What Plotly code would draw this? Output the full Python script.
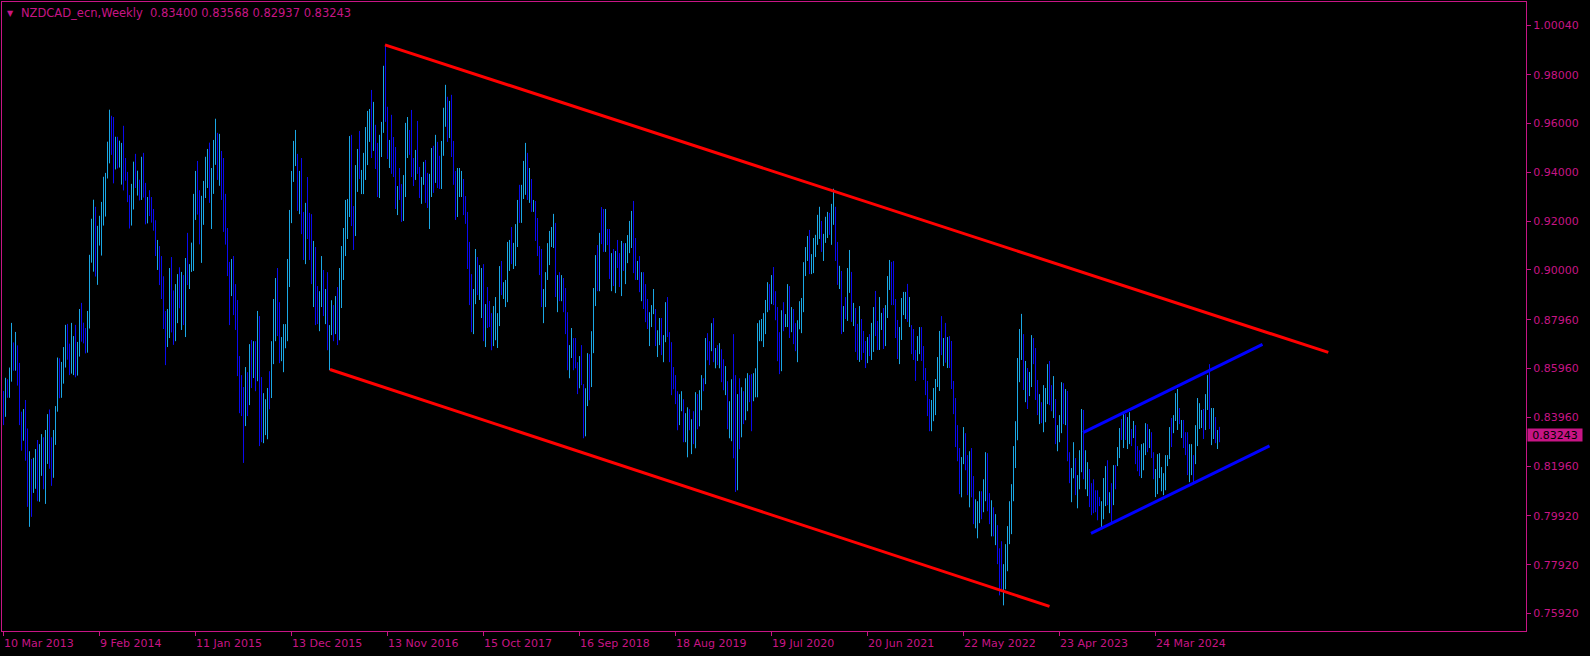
import plotly.graph_objects as go

symbol = "NZDCAD_ecn,Weekly"
last_ohlc = [0.83400, 0.83568, 0.82937, 0.83243]

date_labels = ["10 Mar 2013", "9 Feb 2014", "11 Jan 2015", "13 Dec 2015", "13 Nov 2016",
               "15 Oct 2017", "16 Sep 2018", "18 Aug 2019", "19 Jul 2020", "20 Jun 2021",
               "22 May 2022", "23 Apr 2023", "24 Mar 2024"]
date_index = [0, 48, 96, 144, 192, 240, 288, 336, 384, 432, 480, 528, 576]

y_ticks = [1.00040, 0.98000, 0.96000, 0.94000, 0.92000, 0.90000, 0.87960,
           0.85960, 0.83960, 0.81960, 0.79920, 0.77920, 0.75920]

# weekly bar highs / lows (one value per week, oldest first)
high = [
    0.8504, 0.8558, 0.8552, 0.8600, 0.8783, 0.8703, 0.8746, 0.8691, 0.8619, 0.8419,
    0.8430, 0.8467, 0.8350, 0.8257, 0.8225, 0.8230, 0.8266, 0.8303, 0.8286, 0.8327,
    0.8314, 0.8344, 0.8409, 0.8428, 0.8314, 0.8344, 0.8442, 0.8641, 0.8638, 0.8623,
    0.8684, 0.8775, 0.8779, 0.8698, 0.8783, 0.8729, 0.8775, 0.8705, 0.8840, 0.8865,
    0.8784, 0.8762, 0.8832, 0.9062, 0.9210, 0.9288, 0.9259, 0.9181, 0.9222, 0.9279,
    0.9382, 0.9398, 0.9526, 0.9657, 0.9632, 0.9627, 0.9546, 0.9546, 0.9530, 0.9521,
    0.9591, 0.9459, 0.9402, 0.9307, 0.9353, 0.9444, 0.9476, 0.9407, 0.9370, 0.9464,
    0.9480, 0.9357, 0.9299, 0.9327, 0.9299, 0.9250, 0.9204, 0.9123, 0.9098, 0.9057,
    0.8974, 0.8832, 0.8840, 0.9008, 0.9053, 0.8916, 0.8942, 0.8983, 0.9011, 0.8992,
    0.8979, 0.9049, 0.9152, 0.9024, 0.9112, 0.9312, 0.9406, 0.9447, 0.9327, 0.9304,
    0.9365, 0.9464, 0.9496, 0.9522, 0.9418, 0.9533, 0.9620, 0.9562, 0.9558, 0.9488,
    0.9459, 0.9312, 0.9172, 0.9033, 0.9045, 0.9057, 0.8942, 0.8877, 0.8647, 0.8569,
    0.8520, 0.8602, 0.8581, 0.8696, 0.8713, 0.8708, 0.8708, 0.8832, 0.8811, 0.8561,
    0.8495, 0.8470, 0.8516, 0.8585, 0.8708, 0.8881, 0.8967, 0.9008, 0.8868, 0.8725,
    0.8778, 0.8778, 0.9045, 0.9246, 0.9406, 0.9529, 0.9574, 0.9476, 0.9406, 0.9459,
    0.9238, 0.9275, 0.9381, 0.9234, 0.9229, 0.9119, 0.9094, 0.8934, 0.8913, 0.9057,
    0.9000, 0.8922, 0.8991, 0.8774, 0.8876, 0.8856, 0.8893, 0.8930, 0.9008, 0.9098,
    0.9172, 0.9287, 0.9291, 0.9549, 0.9554, 0.9262, 0.9430, 0.9496, 0.9570, 0.9410,
    0.9480, 0.9586, 0.9652, 0.9660, 0.9738, 0.9689, 0.9595, 0.9521, 0.9554, 0.9607,
    0.9837, 0.9923, 0.9669, 0.9533, 0.9636, 0.9545, 0.9504, 0.9344, 0.9418, 0.9352,
    0.9389, 0.9603, 0.9627, 0.9574, 0.9656, 0.9459, 0.9492, 0.9611, 0.9422, 0.9381,
    0.9443, 0.9451, 0.9398, 0.9394, 0.9500, 0.9509, 0.9554, 0.9525, 0.9468, 0.9529,
    0.9665, 0.9759, 0.9710, 0.9693, 0.9718, 0.9529, 0.9406, 0.9418, 0.9418, 0.9406,
    0.9373, 0.9303, 0.9238, 0.9115, 0.8983, 0.8922, 0.9086, 0.9053, 0.9020, 0.9008,
    0.9024, 0.8860, 0.8930, 0.8873, 0.8823, 0.8852, 0.8889, 0.8823, 0.9016, 0.9037,
    0.8950, 0.8959, 0.9115, 0.9123, 0.9176, 0.9111, 0.9188, 0.9287, 0.9349, 0.9349,
    0.9447, 0.9521, 0.9480, 0.9418, 0.9373, 0.9287, 0.9283, 0.9213, 0.9098, 0.9086,
    0.8922, 0.8991, 0.9110, 0.9160, 0.9176, 0.9230, 0.9193, 0.8979, 0.8991, 0.8979,
    0.8967, 0.8926, 0.8827, 0.8692, 0.8762, 0.8721, 0.8721, 0.8622, 0.8647, 0.8692,
    0.8532, 0.8515, 0.8659, 0.8655, 0.8749, 0.8926, 0.9061, 0.9102, 0.9152, 0.9258,
    0.9250, 0.9250, 0.9168, 0.9168, 0.9069, 0.9086, 0.9078, 0.9123, 0.9069, 0.9119,
    0.9110, 0.9110, 0.9143, 0.9201, 0.9242, 0.9283, 0.9131, 0.9037, 0.9057, 0.8991,
    0.8991, 0.8942, 0.8881, 0.8827, 0.8856, 0.8922, 0.8840, 0.8753, 0.8803, 0.8803,
    0.8733, 0.8868, 0.8889, 0.8745, 0.8704, 0.8602, 0.8569, 0.8503, 0.8491, 0.8503,
    0.8470, 0.8413, 0.8437, 0.8429, 0.8388, 0.8421, 0.8499, 0.8491, 0.8507, 0.8569,
    0.8556, 0.8721, 0.8741, 0.8708, 0.8782, 0.8803, 0.8680, 0.8692, 0.8700, 0.8675,
    0.8634, 0.8606, 0.8544, 0.8462, 0.8552, 0.8737, 0.8569, 0.8491, 0.8556, 0.8519,
    0.8503, 0.8556, 0.8577, 0.8569, 0.8573, 0.8577, 0.8597, 0.8782, 0.8794, 0.8799,
    0.8823, 0.8877, 0.8950, 0.8942, 0.8979, 0.9012, 0.8913, 0.8848, 0.8745, 0.8835,
    0.8868, 0.8819, 0.8942, 0.8934, 0.8848, 0.8840, 0.8782, 0.8794, 0.8872, 0.8885,
    0.9032, 0.9094, 0.9139, 0.9164, 0.9065, 0.9131, 0.9144, 0.9226, 0.9259, 0.9201,
    0.9148, 0.9218, 0.9238, 0.9234, 0.9271, 0.9333, 0.9259, 0.9115, 0.9017, 0.8996,
    0.8852, 0.8889, 0.9008, 0.9082, 0.8992, 0.8865, 0.8844, 0.8779, 0.8852, 0.8799,
    0.8750, 0.8709, 0.8725, 0.8737, 0.8783, 0.8848, 0.8914, 0.8791, 0.8889, 0.8824,
    0.8844, 0.8856, 0.8975, 0.9041, 0.9033, 0.9037, 0.8881, 0.8795, 0.8766, 0.8885,
    0.8910, 0.8910, 0.8943, 0.8889, 0.8774, 0.8758, 0.8672, 0.8729, 0.8766, 0.8766,
    0.8688, 0.8598, 0.8545, 0.8471, 0.8467, 0.8516, 0.8553, 0.8643, 0.8750, 0.8811,
    0.8721, 0.8783, 0.8725, 0.8729, 0.8709, 0.8545, 0.8475, 0.8364, 0.8270, 0.8233,
    0.8356, 0.8331, 0.8241, 0.8257, 0.8270, 0.8155, 0.8060, 0.8052, 0.8093, 0.8093,
    0.8142, 0.8253, 0.8249, 0.8085, 0.8056, 0.8027, 0.7999, 0.7954, 0.7859, 0.7888,
    0.7794, 0.7876, 0.7950, 0.8052, 0.8122, 0.8278, 0.8380, 0.8639, 0.8758, 0.8820,
    0.8737, 0.8627, 0.8598, 0.8582, 0.8733, 0.8721, 0.8680, 0.8549, 0.8491, 0.8458,
    0.8528, 0.8516, 0.8614, 0.8627, 0.8528, 0.8565, 0.8471, 0.8364, 0.8405, 0.8540,
    0.8536, 0.8512, 0.8504, 0.8253, 0.8188, 0.8294, 0.8229, 0.8159, 0.8261, 0.8430,
    0.8426, 0.8261, 0.8212, 0.8184, 0.8126, 0.8142, 0.8097, 0.8097, 0.8069, 0.8052,
    0.8147, 0.8196, 0.8220, 0.8089, 0.8126, 0.8200, 0.8200, 0.8274, 0.8352, 0.8389,
    0.8409, 0.8409, 0.8397, 0.8417, 0.8348, 0.8381, 0.8364, 0.8278, 0.8261, 0.8286,
    0.8290, 0.8372, 0.8368, 0.8348, 0.8335, 0.8253, 0.8184, 0.8245, 0.8249, 0.8192,
    0.8167, 0.8241, 0.8241, 0.8356, 0.8393, 0.8405, 0.8495, 0.8512, 0.8434, 0.8385,
    0.8385, 0.8335, 0.8335, 0.8286, 0.8286, 0.8241, 0.8364, 0.8475, 0.8454, 0.8426,
    0.8430, 0.8491, 0.8569, 0.8614, 0.8434, 0.8434, 0.8397, 0.8344, 0.83568,
]

low = [
    0.8364, 0.8398, 0.8476, 0.8476, 0.8542, 0.8587, 0.8587, 0.8526, 0.8364, 0.8259,
    0.8300, 0.8218, 0.8029, 0.7947, 0.7988, 0.8086, 0.8103, 0.8052, 0.8050, 0.8156,
    0.8101, 0.8041, 0.8205, 0.8185, 0.8115, 0.8148, 0.8283, 0.8419, 0.8474, 0.8476,
    0.8534, 0.8600, 0.8632, 0.8569, 0.8575, 0.8569, 0.8560, 0.8567, 0.8645, 0.8706,
    0.8699, 0.8658, 0.8661, 0.8760, 0.9030, 0.8993, 0.8973, 0.8939, 0.9100, 0.9059,
    0.9182, 0.9219, 0.9375, 0.9437, 0.9472, 0.9355, 0.9412, 0.9416, 0.9420, 0.9350,
    0.9326, 0.9366, 0.9278, 0.9170, 0.9182, 0.9248, 0.9336, 0.9305, 0.9285, 0.9287,
    0.9297, 0.9187, 0.9191, 0.9221, 0.9194, 0.9161, 0.9057, 0.9000, 0.8938, 0.8881,
    0.8758, 0.8610, 0.8684, 0.8721, 0.8744, 0.8693, 0.8708, 0.8782, 0.8843, 0.8754,
    0.8774, 0.8725, 0.8938, 0.8922, 0.8992, 0.8996, 0.9205, 0.9227, 0.9105, 0.9029,
    0.9185, 0.9295, 0.9336, 0.9275, 0.9168, 0.9312, 0.9431, 0.9369, 0.9345, 0.9287,
    0.9156, 0.9104, 0.8975, 0.8774, 0.8893, 0.8815, 0.8754, 0.8565, 0.8413, 0.8401,
    0.8209, 0.8360, 0.8401, 0.8446, 0.8516, 0.8557, 0.8503, 0.8544, 0.8278, 0.8294,
    0.8290, 0.8323, 0.8306, 0.8429, 0.8475, 0.8614, 0.8708, 0.8729, 0.8618, 0.8626,
    0.8581, 0.8679, 0.8708, 0.8930, 0.9192, 0.9361, 0.9426, 0.9242, 0.9229, 0.9147,
    0.9041, 0.9024, 0.9127, 0.9041, 0.8942, 0.8848, 0.8774, 0.8778, 0.8749, 0.8848,
    0.8811, 0.8778, 0.8671, 0.8589, 0.8733, 0.8708, 0.8737, 0.8692, 0.8712, 0.8844,
    0.8959, 0.9057, 0.9127, 0.9217, 0.9180, 0.9082, 0.9139, 0.9320, 0.9373, 0.9311,
    0.9311, 0.9369, 0.9430, 0.9525, 0.9459, 0.9488, 0.9414, 0.9299, 0.9295, 0.9463,
    0.9562, 0.9607, 0.9455, 0.9418, 0.9394, 0.9381, 0.9250, 0.9225, 0.9287, 0.9197,
    0.9201, 0.9299, 0.9459, 0.9472, 0.9381, 0.9344, 0.9369, 0.9394, 0.9295, 0.9271,
    0.9349, 0.9275, 0.9254, 0.9168, 0.9299, 0.9316, 0.9357, 0.9336, 0.9332, 0.9332,
    0.9468, 0.9587, 0.9525, 0.9541, 0.9463, 0.9349, 0.9205, 0.9217, 0.9299, 0.9299,
    0.9225, 0.9189, 0.9004, 0.8856, 0.8745, 0.8737, 0.8860, 0.8897, 0.8877, 0.8803,
    0.8708, 0.8684, 0.8762, 0.8766, 0.8671, 0.8688, 0.8712, 0.8680, 0.8770, 0.8897,
    0.8881, 0.8848, 0.8868, 0.8996, 0.9024, 0.9004, 0.9016, 0.9094, 0.9193, 0.9193,
    0.9291, 0.9308, 0.9287, 0.9275, 0.9238, 0.9238, 0.9119, 0.9057, 0.8979, 0.8848,
    0.8782, 0.8848, 0.8959, 0.9020, 0.9094, 0.9090, 0.8889, 0.8827, 0.8872, 0.8872,
    0.8827, 0.8737, 0.8589, 0.8556, 0.8639, 0.8589, 0.8597, 0.8491, 0.8515, 0.8528,
    0.8310, 0.8318, 0.8442, 0.8466, 0.8520, 0.8659, 0.8852, 0.8913, 0.8913, 0.9106,
    0.9074, 0.9074, 0.9102, 0.8963, 0.8913, 0.8934, 0.8905, 0.9008, 0.8930, 0.8893,
    0.8996, 0.8942, 0.9028, 0.9069, 0.9090, 0.8987, 0.8959, 0.8959, 0.8909, 0.8872,
    0.8840, 0.8786, 0.8758, 0.8688, 0.8766, 0.8819, 0.8688, 0.8643, 0.8692, 0.8651,
    0.8622, 0.8704, 0.8725, 0.8622, 0.8487, 0.8511, 0.8450, 0.8343, 0.8364, 0.8421,
    0.8294, 0.8294, 0.8232, 0.8343, 0.8245, 0.8286, 0.8269, 0.8347, 0.8359, 0.8425,
    0.8503, 0.8532, 0.8630, 0.8610, 0.8667, 0.8622, 0.8597, 0.8610, 0.8597, 0.8540,
    0.8507, 0.8487, 0.8347, 0.8310, 0.8298, 0.8228, 0.8090, 0.8097, 0.8265, 0.8314,
    0.8368, 0.8384, 0.8421, 0.8458, 0.8339, 0.8462, 0.8478, 0.8478, 0.8708, 0.8708,
    0.8684, 0.8737, 0.8827, 0.8835, 0.8860, 0.8856, 0.8794, 0.8626, 0.8573, 0.8585,
    0.8749, 0.8766, 0.8766, 0.8721, 0.8745, 0.8696, 0.8667, 0.8622, 0.8757, 0.8741,
    0.8827, 0.8975, 0.9037, 0.8983, 0.8983, 0.8987, 0.9053, 0.9103, 0.9127, 0.9074,
    0.9037, 0.9111, 0.9131, 0.9144, 0.9103, 0.9185, 0.9037, 0.8939, 0.8922, 0.8737,
    0.8746, 0.8799, 0.8791, 0.8906, 0.8787, 0.8770, 0.8664, 0.8631, 0.8623, 0.8631,
    0.8660, 0.8598, 0.8618, 0.8647, 0.8631, 0.8664, 0.8729, 0.8672, 0.8672, 0.8754,
    0.8676, 0.8688, 0.8803, 0.8918, 0.8856, 0.8856, 0.8721, 0.8635, 0.8614, 0.8713,
    0.8815, 0.8799, 0.8787, 0.8766, 0.8655, 0.8631, 0.8545, 0.8627, 0.8655, 0.8627,
    0.8549, 0.8487, 0.8401, 0.8339, 0.8339, 0.8380, 0.8405, 0.8520, 0.8504, 0.8651,
    0.8606, 0.8620, 0.8598, 0.8598, 0.8512, 0.8409, 0.8274, 0.8216, 0.8081, 0.8068,
    0.8204, 0.8179, 0.8077, 0.8027, 0.8068, 0.7958, 0.7941, 0.7900, 0.7962, 0.7978,
    0.8007, 0.8052, 0.8011, 0.7958, 0.7908, 0.7908, 0.7872, 0.7794, 0.7666, 0.7687,
    0.7625, 0.7691, 0.7765, 0.7876, 0.7917, 0.8052, 0.8188, 0.8302, 0.8540, 0.8631,
    0.8508, 0.8458, 0.8430, 0.8483, 0.8520, 0.8614, 0.8467, 0.8405, 0.8368, 0.8372,
    0.8335, 0.8376, 0.8450, 0.8446, 0.8421, 0.8393, 0.8286, 0.8257, 0.8294, 0.8331,
    0.8368, 0.8364, 0.8216, 0.8126, 0.8048, 0.8146, 0.8077, 0.8023, 0.8101, 0.8171,
    0.8142, 0.8101, 0.8073, 0.8028, 0.7995, 0.8003, 0.8007, 0.7974, 0.8032, 0.7941,
    0.7978, 0.8032, 0.8036, 0.8003, 0.7962, 0.8036, 0.8101, 0.8196, 0.8229, 0.8303,
    0.8270, 0.8303, 0.8266, 0.8286, 0.8278, 0.8311, 0.8204, 0.8175, 0.8155, 0.8147,
    0.8179, 0.8241, 0.8253, 0.8270, 0.8229, 0.8142, 0.8069, 0.8081, 0.8147, 0.8093,
    0.8077, 0.8097, 0.8196, 0.8225, 0.8274, 0.8331, 0.8381, 0.8344, 0.8368, 0.8311,
    0.8270, 0.8241, 0.8159, 0.8130, 0.8159, 0.8122, 0.8204, 0.8278, 0.8348, 0.8352,
    0.8307, 0.8344, 0.8426, 0.8348, 0.8282, 0.8307, 0.8290, 0.8266, 0.82937,
]

# 1 = bullish week, 0 = bearish week
up = [
    0, 1, 0, 1, 1, 0, 1, 0, 0, 0,  1, 0, 0, 1, 0, 1, 1, 0, 1, 1,
    0, 1, 1, 0, 0, 1, 1, 1, 0, 1,  1, 1, 0, 0, 1, 1, 0, 1, 1, 0,
    0, 0, 1, 1, 1, 1, 0, 1, 1, 1,  1, 1, 1, 1, 0, 0, 1, 0, 1, 1,
    0, 0, 0, 0, 1, 1, 0, 1, 0, 1,  0, 0, 1, 0, 0, 0, 0, 1, 0, 0,
    0, 0, 1, 1, 0, 0, 1, 1, 0, 1,  0, 1, 0, 1, 1, 1, 1, 0, 0, 1,
    1, 1, 1, 0, 1, 1, 1, 0, 1, 0,  0, 0, 0, 0, 1, 0, 0, 0, 0, 0,
    0, 1, 0, 1, 0, 1, 0, 1, 0, 0,  1, 1, 1, 0, 1, 1, 1, 0, 0, 1,
    1, 1, 1, 1, 1, 1, 1, 0, 1, 0,  0, 1, 0, 0, 0, 1, 0, 0, 1, 1,
    0, 1, 0, 1, 1, 0, 1, 0, 1, 1,  1, 1, 1, 1, 0, 0, 1, 1, 0, 1,
    1, 1, 1, 1, 0, 1, 0, 0, 1, 1,  1, 0, 0, 1, 0, 0, 0, 1, 0, 0,
    1, 1, 1, 0, 0, 0, 1, 0, 0, 1,  1, 0, 0, 1, 1, 0, 1, 0, 0, 1,
    1, 1, 0, 1, 0, 0, 0, 1, 1, 1,  0, 0, 0, 0, 0, 1, 1, 0, 1, 1,
    0, 1, 0, 0, 0, 1, 1, 1, 1, 0,  1, 1, 1, 1, 0, 1, 1, 1, 0, 1,
    1, 1, 0, 1, 0, 1, 0, 0, 0, 0,  1, 1, 1, 1, 1, 1, 0, 1, 0, 1,
    0, 0, 0, 1, 1, 0, 0, 0, 1, 0,  0, 1, 1, 0, 1, 1, 1, 0, 1, 0,
    0, 1, 0, 0, 1, 0, 1, 0, 0, 1,  0, 1, 1, 1, 1, 0, 0, 1, 0, 1,
    0, 0, 0, 1, 1, 1, 0, 1, 1, 0,  1, 1, 0, 0, 0, 0, 0, 0, 1, 1,
    0, 1, 1, 0, 1, 0, 1, 0, 1, 1,  0, 1, 0, 0, 1, 0, 1, 0, 1, 0,
    0, 1, 0, 1, 1, 0, 0, 1, 0, 1,  0, 1, 1, 0, 0, 1, 1, 1, 1, 1,
    1, 1, 1, 0, 1, 0, 0, 0, 0, 1,  0, 1, 1, 0, 1, 0, 0, 1, 1, 1,
    1, 1, 1, 0, 1, 1, 1, 1, 1, 0,  1, 1, 1, 0, 1, 1, 0, 0, 1, 0,
    1, 0, 1, 1, 0, 1, 0, 0, 1, 0,  0, 0, 1, 0, 1, 1, 0, 0, 1, 1,
    0, 1, 1, 1, 0, 0, 0, 0, 1, 1,  1, 1, 0, 1, 0, 0, 0, 1, 1, 0,
    0, 0, 0, 0, 1, 1, 1, 1, 1, 0,  1, 0, 1, 0, 0, 0, 0, 0, 0, 1,
    1, 0, 0, 1, 0, 0, 1, 1, 1, 0,  1, 1, 0, 0, 1, 0, 1, 0, 0, 0,
    1, 1, 1, 1, 1, 1, 1, 1, 1, 1,  0, 1, 0, 1, 1, 0, 0, 0, 1, 0,
    1, 1, 1, 0, 0, 1, 0, 1, 1, 1,  0, 1, 0, 0, 1, 1, 0, 1, 1, 1,
    0, 1, 1, 0, 0, 0, 0, 0, 0, 1,  1, 1, 0, 1, 0, 1, 0, 1, 1, 0,
    1, 0, 1, 1, 0, 1, 0, 0, 0, 1,  1, 1, 0, 1, 0, 0, 1, 1, 1, 1,
    1, 1, 1, 1, 0, 1, 1, 1, 0, 1,  0, 0, 0, 1, 1, 0, 1, 1, 1, 1,
    0, 1, 1, 0, 1, 1, 0, 1, 0,
]

# trend lines: (bar index, price) end points
red_upper_x = [190.75, 662.4]
red_upper_y = [0.9923, 0.8662]
red_lower_x = [163.25, 523.0]
red_lower_y = [0.8592, 0.7621]
blue_upper_x = [539.75, 629.5]
blue_upper_y = [0.8333, 0.8695]
blue_lower_x = [543.75, 633.0]
blue_lower_y = [0.7920, 0.8279]

MAG = "#C71585"
UP_COLOR = "#1AA7E5"
DN_COLOR = "#0A0AEE"
FONT = "DejaVu Sans"


def bar_segments(flag):
    xs, ys = [], []
    for i, (h, l, u) in enumerate(zip(high, low, up)):
        if u == flag:
            xs += [i, i, None]
            ys += [l, h, None]
    return xs, ys


fig = go.Figure()
for flag, col in ((1, UP_COLOR), (0, DN_COLOR)):
    xs, ys = bar_segments(flag)
    fig.add_trace(go.Scatter(x=xs, y=ys, mode="lines", line=dict(color=col, width=1),
                             hoverinfo="skip", showlegend=False))

for lx, ly, col in ((red_upper_x, red_upper_y, "#FF0000"), (red_lower_x, red_lower_y, "#FF0000"),
                    (blue_upper_x, blue_upper_y, "#0000FF"), (blue_lower_x, blue_lower_y, "#0000FF")):
    fig.add_trace(go.Scatter(x=lx, y=ly, mode="lines", line=dict(color=col, width=3),
                             hoverinfo="skip", showlegend=False))

annotations = []
for idx, lab in zip(date_index, date_labels):
    annotations.append(dict(x=idx, xref="x", y=0, yref="paper", text=lab, showarrow=False,
                            xanchor="left", yanchor="top", xshift=-2, yshift=-4,
                            font=dict(family=FONT, size=11, color=MAG)))

header = symbol + "  " + " ".join(f"{v:.5f}" for v in last_ohlc)
annotations.append(dict(x=0, xref="paper", y=1, yref="paper", text=header, showarrow=False,
                        xanchor="left", yanchor="top", xshift=17, yshift=-2,
                        font=dict(family=FONT, size=11.5, color=MAG)))
annotations.append(dict(x=0, xref="paper", y=1, yref="paper", text="▼", showarrow=False,
                        xanchor="left", yanchor="top", xshift=3, yshift=-5,
                        font=dict(family=FONT, size=8, color=MAG)))
annotations.append(dict(x=1, xref="paper", y=last_ohlc[3], yref="y", text=f"{last_ohlc[3]:.5f}",
                        showarrow=False, xanchor="left", yanchor="middle", xshift=1,
                        width=54, height=12, align="center",
                        bgcolor=MAG, borderpad=0,
                        font=dict(family=FONT, size=11, color="#000000")))

fig.update_layout(
    width=1590, height=656,
    margin=dict(l=2, r=64, t=2, b=25, autoexpand=False),
    paper_bgcolor="#000000", plot_bgcolor="#000000",
    showlegend=False,
    annotations=annotations,
    xaxis=dict(range=[-0.75, 761.25], showgrid=False, zeroline=False,
               showline=True, mirror=True, linecolor=MAG, linewidth=1,
               tickvals=date_index, ticks="outside", ticklen=4, tickcolor=MAG,
               showticklabels=False, automargin=False),
    yaxis=dict(range=[0.75200, 1.00985], side="right", showgrid=False, zeroline=False,
               showline=True, mirror=True, linecolor=MAG, linewidth=1,
               tickvals=y_ticks, ticktext=[f"{v:.5f}" for v in y_ticks],
               ticks="outside", ticklen=4, tickcolor=MAG, automargin=False,
               tickfont=dict(family=FONT, size=11, color=MAG)),
)

fig.write_html("out.html", config={"displayModeBar": False},
               post_script="document.body.style.margin='0';document.body.style.background='#000';")
